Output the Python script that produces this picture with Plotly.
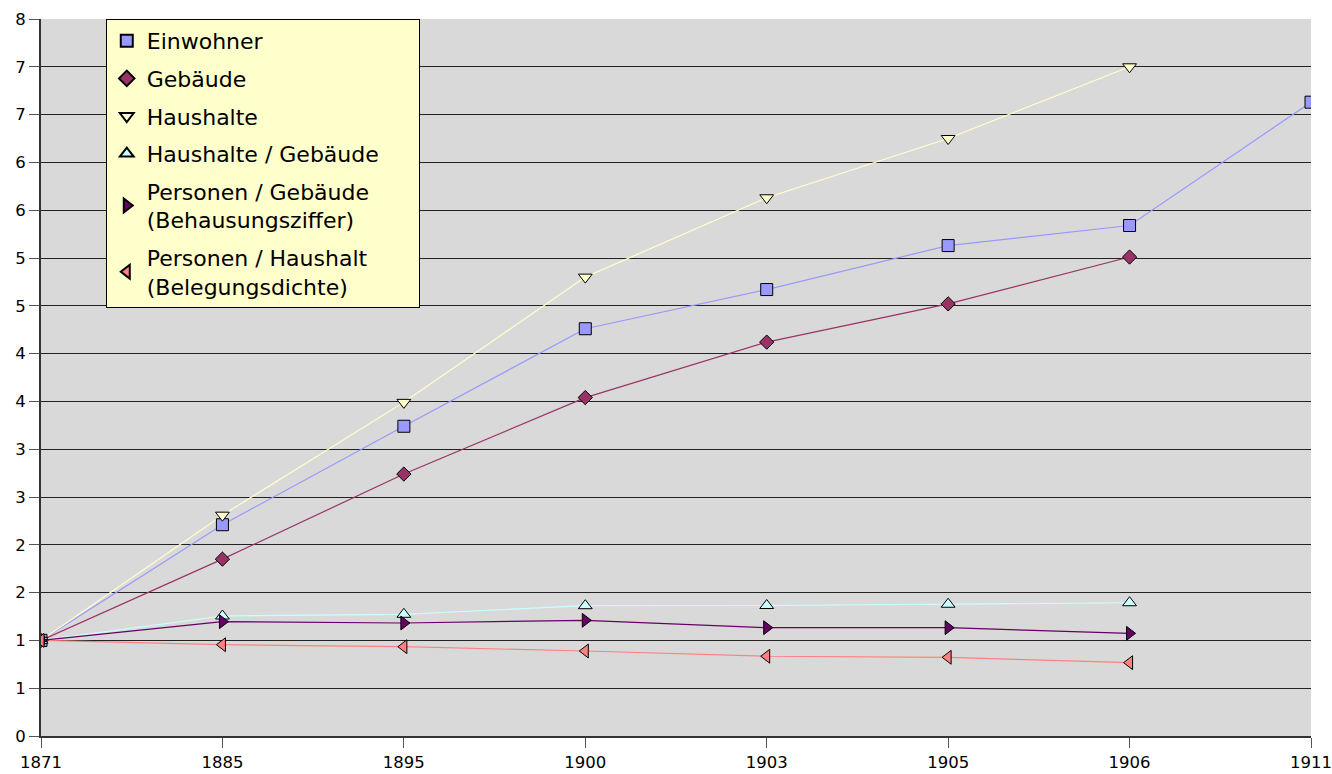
import plotly.graph_objects as go

years = ["1871", "1885", "1895", "1900", "1903", "1905", "1906", "1911"]

einwohner = [1.0, 2.21, 3.24, 4.26, 4.67, 5.13, 5.34, 6.63]
gebaeude = [1.0, 1.85, 2.74, 3.54, 4.12, 4.52, 5.01, None]
haushalte = [1.0, 2.31, 3.49, 4.80, 5.63, 6.25, 7.00, None]
haushalte_pro_gebaeude = [1.0, 1.255, 1.273, 1.363, 1.365, 1.378, 1.394, None]
personen_pro_gebaeude = [1.0, 1.196, 1.182, 1.21, 1.133, 1.133, 1.074, None]
personen_pro_haushalt = [1.0, 0.955, 0.934, 0.889, 0.834, 0.823, 0.767, None]

series_names = [
    "Einwohner",
    "Gebäude",
    "Haushalte",
    "Haushalte / Gebäude\u00a0\u00a0\u00a0\u00a0\u00a0",
    "Personen / Gebäude<br>(Behausungsziffer)",
    "Personen / Haushalt<br>(Belegungsdichte)",
]
series_values = [einwohner, gebaeude, haushalte, haushalte_pro_gebaeude,
                 personen_pro_gebaeude, personen_pro_haushalt]
colors = ["#9999ff", "#993366", "#ffffcc", "#ccffff", "#660066", "#ff8080"]
symbols = ["square", "diamond", "triangle-down", "triangle-up", "triangle-right", "triangle-left"]
sizes = [12, 11, 12, 12, 12, 12]

y_tickvals = [i * 0.5 for i in range(16)]
y_ticktext = ["0", "1", "1", "2", "2", "3", "3", "4", "4", "5", "5", "6", "6", "7", "7", "8"]

fig = go.Figure()

for name, vals, c in zip(series_names, series_values, colors):
    fig.add_trace(go.Scatter(
        x=years, y=vals, mode="lines", line=dict(color=c, width=1.2),
        showlegend=False, hoverinfo="skip", connectgaps=False,
    ))

for i, (name, vals, c, s, sz) in enumerate(zip(series_names, series_values, colors, symbols, sizes)):
    fig.add_trace(go.Scatter(
        x=years, y=vals, mode="markers", name=name,
        marker=dict(color=c, symbol=s, size=sz, line=dict(color="#000000", width=1)),
        legendgroup=f"g{i}",
    ))

fig.update_layout(
    width=1332, height=774,
    margin=dict(l=41, r=21, t=19, b=38),
    paper_bgcolor="white",
    plot_bgcolor="#d9d9d9",
    font=dict(family="DejaVu Sans", size=16.5, color="#000000"),
    legend=dict(
        x=0.051, y=1.0, xanchor="left", yanchor="top",
        bgcolor="#ffffcc", bordercolor="#000000", borderwidth=1,
        font=dict(family="DejaVu Sans", size=22, color="#000000"),
        tracegroupgap=6,
        itemsizing="constant",
    ),
    xaxis=dict(
        type="category", range=[0, 7],
        showgrid=False, zeroline=False, automargin=False,
        showline=True, linecolor="#333333", linewidth=2,
        ticks="outside", ticklen=10, tickcolor="#555555", tickwidth=1,
        tickfont=dict(size=16.5),
    ),
    yaxis=dict(
        range=[0, 7.5], automargin=False,
        tickmode="array", tickvals=y_tickvals, ticktext=y_ticktext,
        showgrid=True, gridcolor="#222222", gridwidth=1,
        zeroline=False,
        showline=True, linecolor="#333333", linewidth=2,
        ticks="outside", ticklen=10, tickcolor="#555555", tickwidth=1,
        tickfont=dict(size=16.5),
    ),
)

fig.write_html("out.html", config={"displayModeBar": False},
               post_script="document.body.style.margin='0px';")
